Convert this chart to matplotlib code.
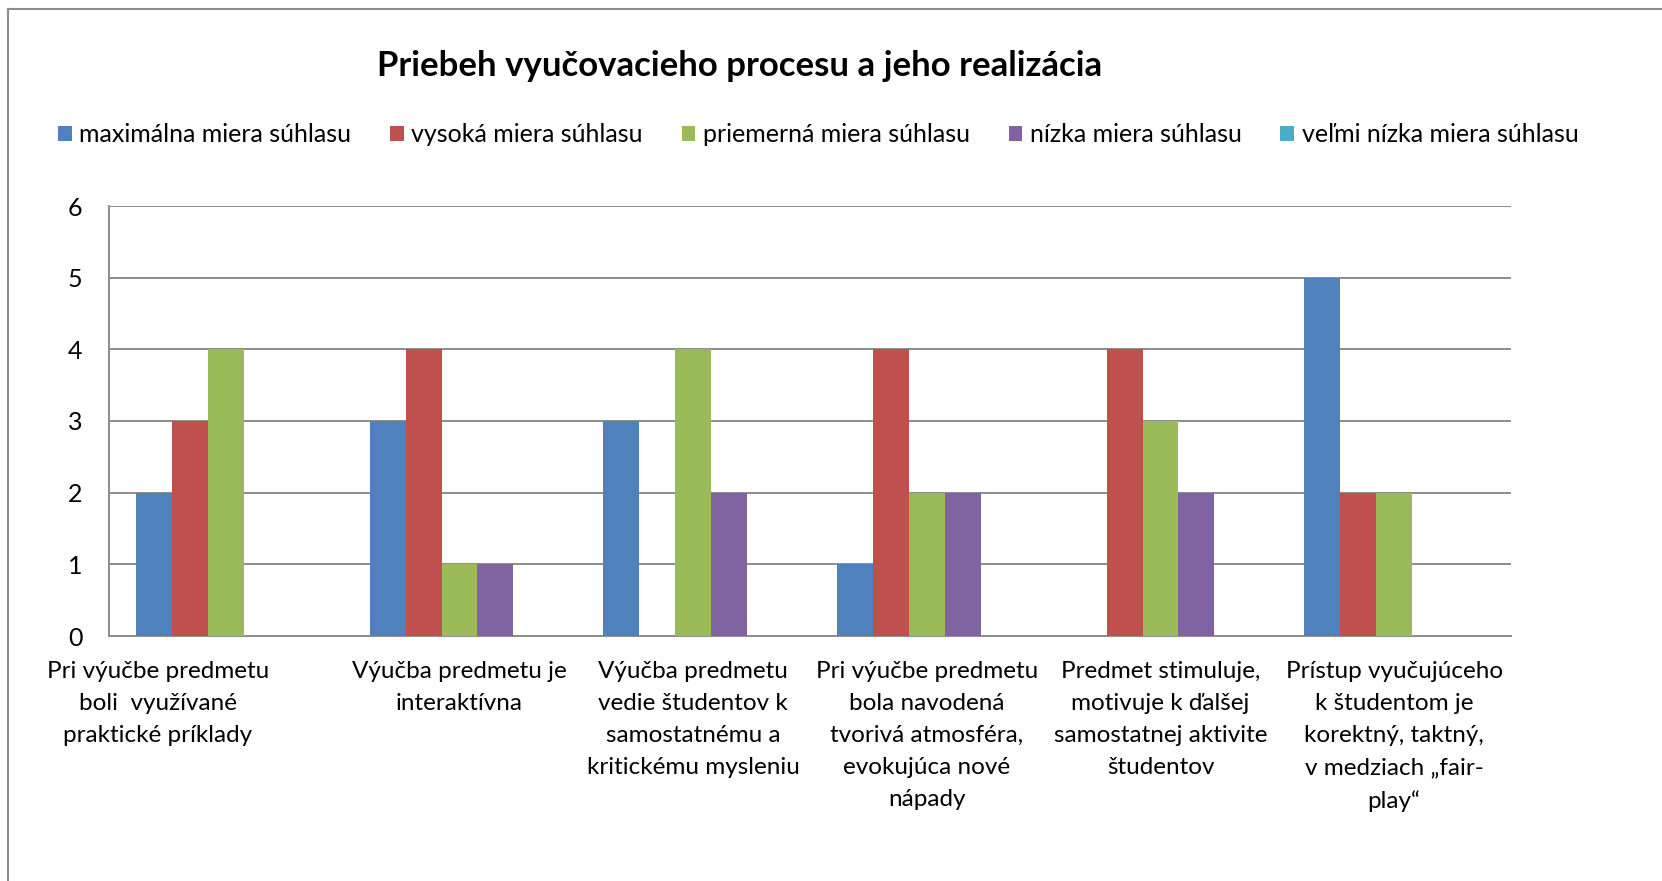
import numpy as np
import matplotlib.pyplot as plt
import matplotlib.transforms as mtransforms
from matplotlib.lines import Line2D

# data
categories = [
    "Pri výučbe predmetu\nboli  využívané\npraktické príklady",
    "Výučba predmetu je\ninteraktívna",
    "Výučba predmetu\nvedie študentov k\nsamostatnému a\nkritickému mysleniu",
    "Pri výučbe predmetu\nbola navodená\ntvorivá atmosféra,\nevokujúca nové\nnápady",
    "Predmet stimuluje,\nmotivuje k ďalšej\nsamostatnej aktivite\nštudentov",
    "Prístup vyučujúceho\nk študentom je\nkorektný, taktný,\nv medziach „fair-\nplay“",
]
series_names = [
    "maximálna miera súhlasu",
    "vysoká miera súhlasu",
    "priemerná miera súhlasu",
    "nízka miera súhlasu",
    "veľmi nízka miera súhlasu",
]
maximalna = [2, 3, 3, 1, 0, 5]
vysoka = [3, 4, 0, 4, 4, 2]
priemerna = [4, 1, 4, 2, 3, 2]
nizka = [0, 1, 2, 2, 2, 0]
velmi_nizka = [0, 0, 0, 0, 0, 0]
values = [maximalna, vysoka, priemerna, nizka, velmi_nizka]
colors = ["#4F81BD", "#C0504D", "#9BBB59", "#8064A2", "#4BACC6"]

plt.rcParams['font.family'] = ['Lato', 'DejaVu Sans']

fig = plt.figure(figsize=(16.62, 8.81), dpi=100)
ax = fig.add_axes([109 / 1662, 1 - 636 / 881, 1402 / 1662, 430 / 881])

x = np.arange(len(categories))
bar_w = 1 / 6.5
for i, (name, vals, c) in enumerate(zip(series_names, values, colors)):
    offs = (i - 2) * bar_w
    ax.bar(x + offs, vals, width=bar_w, color=c, label=name, zorder=3)

ax.set_xlim(-0.5, len(categories) - 0.5)
ax.set_ylim(0, 6)
ax.set_yticks(range(0, 7))
ax.set_xticks(x)
ax.set_xticklabels(categories, fontsize=17.5, linespacing=1.65, va='top')
ax.tick_params(axis='x', length=0, pad=18)
ax.tick_params(axis='y', length=0, pad=19, labelsize=18)
ax.grid(axis='y', color='#8c8c8c', linewidth=1.4, zorder=0)
for s in ['top', 'right']:
    ax.spines[s].set_visible(False)
for s in ['left', 'bottom']:
    ax.spines[s].set_color('#8c8c8c')
    ax.spines[s].set_linewidth(1.4)

# the first category label sits left of its group in the reference
first = ax.get_xticklabels()[0]
first.set_transform(first.get_transform() +
                    mtransforms.ScaledTranslation(-68 / 100, 0, fig.dpi_scale_trans))

fig.text(740 / 1662, 1 - 66 / 881, "Priebeh vyučovacieho procesu a jeho realizácia",
         ha='center', va='center', fontsize=25, fontweight='bold')

fig.legend(loc='center left', bbox_to_anchor=(58 / 1662, 1 - 135 / 881), ncol=5,
           frameon=False, fontsize=18, handlelength=0.55, handleheight=0.55,
           handletextpad=0.3, columnspacing=1.55, borderaxespad=0, borderpad=0)

# outer chart frame (cropped on the right and bottom)
fig.add_artist(Line2D([8 / 1662, 8 / 1662], [0, 1 - 9 / 881], color='#8c8c8c', lw=1.5,
                      transform=fig.transFigure))
fig.add_artist(Line2D([8 / 1662, 1], [1 - 9 / 881, 1 - 9 / 881], color='#8c8c8c', lw=1.5,
                      transform=fig.transFigure))

fig.savefig("out.png", dpi=100)
